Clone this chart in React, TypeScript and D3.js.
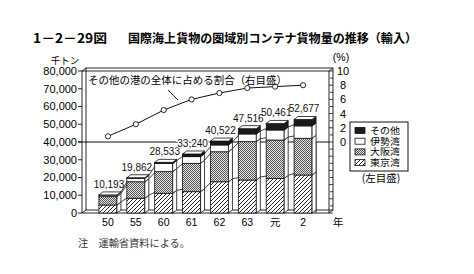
import React from "react";
import * as d3 from "d3";

const categories = ["50", "55", "60", "61", "62", "63", "元", "2"];
const totals = [10193, 19862, 28533, 33240, 40522, 47516, 50461, 52677];
const tokyo = [4500, 8300, 11100, 12000, 17600, 18600, 19500, 21400];
const osaka = [4700, 9300, 12200, 16000, 16900, 21600, 21600, 20700];
const ise = [900, 1960, 4530, 3740, 3820, 4320, 5660, 6980];
const other = [100, 300, 700, 1500, 2200, 3000, 3700, 3600];
const sharePct = [0.8, 2.5, 4.5, 6.0, 6.9, 7.6, 7.8, 8.0];
const leftTicks = [0, 10000, 20000, 30000, 40000, 50000, 60000, 70000, 80000];
const rightTicks = [0, 2, 4, 6, 8, 10];
const seriesKeys = ["tokyo", "osaka", "ise", "other"];
const seriesNames = ["東京湾", "大阪湾", "伊勢湾", "その他"];

const W = 474;
const H = 274;
const JP = "'Noto Sans CJK JP', 'Noto Sans', sans-serif";
const NUM = "'Liberation Sans', Arial, sans-serif";

export default function App() {
  const fx = 82, fr = 329, ft = 71, fb = 213; // front frame
  const dx = 4, dy = 3; // 3D depth
  const yL = d3.scaleLinear().domain([0, 80000]).range([fb, ft]);
  const yR = d3.scaleLinear().domain([0, 10]).range([yL(40000), yL(80000)]);
  const xp = d3.scalePoint<string>().domain(categories).range([94, 317]).padding(0.5);
  const bw = 18;

  const rows = categories.map((c, i) => ({
    cat: c,
    tokyo: tokyo[i],
    osaka: osaka[i],
    ise: ise[i],
    other: other[i],
  }));
  const stacked = d3.stack<any>().keys(seriesKeys)(rows);
  const fills: Record<string, string> = {
    tokyo: "url(#hatch)",
    osaka: "url(#dots)",
    ise: "#fff",
    other: "#1a1a1a",
  };

  const line = d3
    .line<number>()
    .x((_, i) => xp(categories[i]) as number)
    .y((d) => yR(d));

  const rightMinor = d3.range(-10, 11, 1);
  const refY = yL(40000);

  return (
    <svg
      width={W}
      height={H}
      style={{ position: "absolute", left: 0, top: 0, background: "#fff" }}
      fontFamily={JP}
    >
      <defs>
        <pattern id="hatch" patternUnits="userSpaceOnUse" width="4" height="4">
          <rect width="4" height="4" fill="#fff" />
          <path d="M0,4 L4,0 M-1,1 L1,-1 M3,5 L5,3" stroke="#111" strokeWidth="0.9" />
        </pattern>
        <pattern id="dots" patternUnits="userSpaceOnUse" width="2" height="2">
          <rect width="2" height="2" fill="#e6e6e6" />
          <rect x="0" y="0" width="1" height="1" fill="#555" />
          <rect x="1" y="1" width="1" height="1" fill="#555" />
        </pattern>
      </defs>

      {/* Title */}
      <text x={33} y={43} fontSize={12.5} fontWeight="bold" textLength={74} lengthAdjust="spacingAndGlyphs">
        1－2－29図
      </text>
      <text x={128} y={43} fontSize={12} fontWeight="bold" textLength={289} lengthAdjust="spacingAndGlyphs">
        国際海上貨物の圏域別コンテナ貨物量の推移（輸入）
      </text>

      {/* units */}
      <text x={65} y={64} fontSize={9.5} textAnchor="middle">千トン</text>
      <text x={341} y={61} fontSize={10.5} textAnchor="middle" fontFamily={NUM}>(%)</text>

      {/* 3D frame */}
      <g fill="none" stroke="#111" strokeWidth={0.9}>
        <rect x={fx + dx} y={ft - dy} width={fr - fx} height={fb - ft} />
        <line x1={fx} y1={ft} x2={fx} y2={fb} />
        <line x1={fx} y1={ft} x2={fr} y2={ft} />
        <line x1={fx} y1={fb} x2={fr} y2={fb} />
        <line x1={fr} y1={ft} x2={fr} y2={fb} />
        <line x1={fx} y1={ft} x2={fx + dx} y2={ft - dy} />
        <line x1={fx} y1={fb} x2={fx + dx} y2={fb - dy} />
        <line x1={fr} y1={ft} x2={fr + dx} y2={ft - dy} />
        <line x1={fr} y1={fb} x2={fr + dx} y2={fb - dy} />
        <line x1={316} y1={refY} x2={316} y2={fb} />
      </g>

      {/* 40,000 reference line */}
      <line x1={fx - 4} y1={refY} x2={fr} y2={refY} stroke="#111" strokeWidth={1} />

      {/* left axis */}
      {leftTicks.map((t) => (
        <g key={t}>
          <line x1={fx - 4} x2={fx} y1={yL(t)} y2={yL(t)} stroke="#111" strokeWidth={0.9} />
          <text x={fx - 5} y={yL(t) + 3.8} fontSize={11} textAnchor="end" fontFamily={NUM}>
            {d3.format(",")(t)}
          </text>
        </g>
      ))}

      {/* right axis */}
      {rightMinor.map((t) => (
        <line
          key={t}
          x1={fr + dx - (t % 2 === 0 ? 4 : 3)}
          x2={fr + dx}
          y1={yR(t)}
          y2={yR(t)}
          stroke="#111"
          strokeWidth={0.8}
        />
      ))}
      {rightTicks.map((t) => (
        <text key={t} x={343} y={yR(t) + 4} fontSize={11} textAnchor="middle" fontFamily={NUM}>
          {t}
        </text>
      ))}

      {/* connecting lines between bars (3D band edges) */}
      {stacked.slice(0, 3).map((s) => (
        <g key={"c" + s.key}>
          {s.slice(0, -1).map((d, i) => {
            const xa = (xp(categories[i]) as number) + bw / 2 + dx;
            const xb = (xp(categories[i + 1]) as number) - bw / 2 + dx;
            return (
              <line
                key={i}
                x1={xa}
                y1={yL(d[1]) - dy}
                x2={xb}
                y2={yL(s[i + 1][1]) - dy}
                stroke="#111"
                strokeWidth={0.8}
              />
            );
          })}
        </g>
      ))}

      {/* bars */}
      {categories.map((c, i) => {
        const cx = xp(c) as number;
        const x0 = cx - bw / 2;
        const x1 = cx + bw / 2;
        const topVal = stacked[stacked.length - 1][i][1];
        const yt = yL(topVal);
        return (
          <g key={c} stroke="#111" strokeWidth={0.8}>
            {stacked.map((s) => {
              const d = s[i];
              const ya = yL(d[1]);
              const yb = yL(d[0]);
              return (
                <g key={s.key}>
                  <rect x={x0} y={ya} width={bw} height={yb - ya} fill={fills[s.key]} />
                  <polygon
                    points={`${x1},${ya} ${x1 + dx},${ya - dy} ${x1 + dx},${yb - dy} ${x1},${yb}`}
                    fill={s.key === "other" ? "#1a1a1a" : "#fff"}
                  />
                </g>
              );
            })}
            <polygon
              points={`${x0},${yt} ${x0 + dx},${yt - dy} ${x1 + dx},${yt - dy} ${x1},${yt}`}
              fill="#fff"
            />
          </g>
        );
      })}

      {/* value labels */}
      {categories.map((c, i) => {
        const by = yL(totals[i]) - dy - 4;
        const onRef = Math.abs(by - 4 - refY) < 6;
        return (
          <text
            key={"v" + c}
            x={(xp(c) as number) + 1}
            y={by}
            fontSize={10}
            textAnchor="middle"
            fontFamily={NUM}
            stroke={onRef ? "#fff" : "none"}
            strokeWidth={2.5}
            paintOrder="stroke"
            fill="#111"
          >
            {d3.format(",")(totals[i])}
          </text>
        );
      })}

      {/* share line */}
      <path d={line(sharePct) || ""} fill="none" stroke="#111" strokeWidth={1} />
      {sharePct.map((v, i) => (
        <circle key={i} cx={xp(categories[i]) as number} cy={yR(v)} r={2.6} fill="#fff" stroke="#111" strokeWidth={0.9} />
      ))}
      <text x={88} y={84} fontSize={10.5} textLength={199} lengthAdjust="spacingAndGlyphs">
        その他の港の全体に占める割合（右目盛）
      </text>
      <line x1={168} y1={90} x2={178} y2={100} stroke="#111" strokeWidth={0.9} />

      {/* x labels */}
      {categories.map((c) => (
        <text key={"x" + c} x={xp(c) as number} y={226} fontSize={10.5} textAnchor="middle" fontFamily={c === "元" ? JP : NUM}>
          {c}
        </text>
      ))}
      <text x={338} y={226} fontSize={10.5} textAnchor="middle">年</text>

      {/* legend */}
      <rect x={350} y={122} width={58} height={49} fill="#fff" stroke="#111" strokeWidth={1} />
      {[3, 2, 1, 0].map((k, j) => {
        const yy = 130.5 + j * 10.7;
        return (
          <g key={"l" + k}>
            <rect x={355} y={yy - 3} width={10} height={6} fill={fills[seriesKeys[k]]} stroke="#111" strokeWidth={0.8} />
            <text x={370} y={yy + 3.5} fontSize={9.2} textLength={30} lengthAdjust="spacingAndGlyphs">
              {seriesNames[k]}
            </text>
          </g>
        );
      })}
      <text x={381} y={182} fontSize={10.5} textAnchor="middle">(左目盛)</text>

      {/* footnote */}
      <text x={78} y={247} fontSize={10} fill="#333" textLength={112} lengthAdjust="spacingAndGlyphs">
        注　運輸省資料による。
      </text>
    </svg>
  );
}
